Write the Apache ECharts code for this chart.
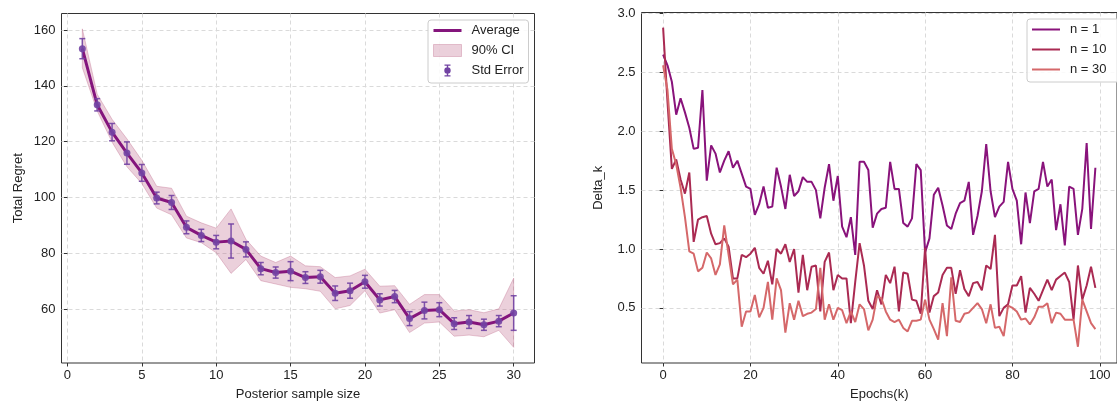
<!DOCTYPE html>
<html>
<head>
<meta charset="utf-8">
<script src="https://cdn.jsdelivr.net/npm/echarts@6/dist/echarts.min.js"></script>
<style>
html, body { margin: 0; padding: 0; background: #fff; }
#chart { width: 1117px; height: 406px; }
</style>
</head>
<body>
<div id="chart"></div>
<script>
// left panel: total regret vs posterior sample size
const sampleSize = [1, 2, 3, 4, 5, 6, 7, 8, 9, 10, 11, 12, 13, 14, 15, 16, 17, 18, 19, 20, 21, 22, 23, 24, 25, 26, 27, 28, 29, 30];
const avgRegret = [153.3, 133.2, 123.4, 115.9, 108.8, 99.8, 98.2, 89.3, 86.4, 84.0, 84.4, 81.4, 74.5, 73.1, 73.6,
    71.3, 71.6, 65.7, 66.6, 69.8, 63.3, 64.5, 56.6, 59.5, 59.8, 54.8, 55.4, 54.4, 55.7, 58.6];
const stdErr = [3.6, 2.2, 3.1, 4.0, 3.0, 2.1, 2.5, 2.3, 2.2, 2.4, 6.1, 2.7, 2.2, 2.0, 3.4,
    2.1, 2.3, 2.6, 2.7, 2.3, 2.2, 2.2, 2.5, 3.0, 2.5, 2.1, 2.3, 2.0, 2.0, 6.2];
const ciLow = [146.5, 131.0, 119.8, 111.0, 105.0, 96.2, 93.8, 85.5, 83.8, 80.2, 72.8, 77.8, 70.2, 69.0, 67.8,
    67.3, 66.4, 60.1, 61.3, 66.6, 58.6, 59.8, 51.6, 55.0, 55.4, 50.3, 50.7, 50.1, 52.4, 46.3];
const ciHigh = [160.4, 137.0, 128.0, 121.0, 113.3, 104.0, 103.3, 93.3, 90.9, 89.0, 95.9, 85.0, 79.0, 76.7, 79.0,
    75.5, 75.2, 71.3, 71.9, 74.3, 68.2, 68.4, 61.7, 65.2, 65.2, 59.3, 59.8, 58.7, 60.1, 71.1];
const sizeTicks = [0, 5, 10, 15, 20, 25, 30];
const regretTicks = [60, 80, 100, 120, 140, 160];

// right panel: Delta_k per epoch
const epochs = Array.from({ length: 100 }, (_, i) => i);
const deltaN1 = [2.65, 2.56, 2.42, 2.14, 2.28, 2.16, 2.03, 1.85, 1.86, 2.35,
    1.58, 1.88, 1.81, 1.65, 1.75, 1.83, 1.69, 1.75, 1.64, 1.53,
    1.51, 1.29, 1.38, 1.53, 1.35, 1.36, 1.69, 1.53, 1.34, 1.63,
    1.45, 1.49, 1.61, 1.57, 1.57, 1.50, 1.26, 1.52, 1.72, 1.41,
    1.62, 1.19, 1.10, 1.27, 0.95, 1.74, 1.74, 1.67, 1.18, 1.30,
    1.34, 1.35, 1.74, 1.51, 1.51, 1.22, 1.19, 1.26, 1.72, 1.67,
    0.97, 1.09, 1.46, 1.52, 1.37, 1.20, 1.17, 1.30, 1.39, 1.41,
    1.57, 1.12, 1.28, 1.49, 1.89, 1.49, 1.27, 1.36, 1.40, 1.74,
    1.51, 1.41, 1.04, 1.48, 1.22, 1.49, 1.51, 1.74, 1.53, 1.59,
    1.16, 1.38, 1.03, 1.53, 1.51, 1.12, 1.34, 1.90, 1.17, 1.69];
const deltaN10 = [2.88, 2.25, 1.68, 1.76, 1.59, 1.47, 1.65, 1.06, 1.25, 1.27,
    1.28, 1.13, 1.04, 1.05, 1.09, 1.02, 0.75, 0.75, 0.95, 0.93,
    0.96, 1.01, 0.84, 0.79, 0.90, 0.70, 1.00, 0.96, 1.04, 0.89,
    1.00, 0.63, 0.95, 0.65, 0.85, 0.86, 0.47, 0.89, 0.97, 0.65,
    0.78, 0.75, 0.75, 0.37, 0.72, 1.05, 0.86, 0.56, 0.49, 0.65,
    0.53, 0.78, 0.71, 0.85, 0.47, 0.80, 0.79, 0.57, 0.56, 0.45,
    1.01, 0.46, 0.60, 0.63, 0.78, 0.84, 0.84, 0.62, 0.82, 0.66,
    0.60, 0.71, 0.72, 0.65, 0.86, 0.83, 1.12, 0.43, 0.50, 0.53,
    0.69, 0.69, 0.77, 0.46, 0.67, 0.62, 0.56, 0.65, 0.74, 0.65,
    0.74, 0.77, 0.80, 0.72, 0.40, 0.86, 0.57, 0.69, 0.85, 0.67];
const deltaN30 = [2.56, 2.35, 1.85, 1.72, 1.52, 1.27, 0.98, 0.96, 0.81, 0.84,
    0.97, 0.92, 0.78, 0.87, 1.20, 0.95, 0.70, 0.74, 0.34, 0.47,
    0.47, 0.61, 0.42, 0.50, 0.72, 0.40, 0.75, 0.65, 0.29, 0.54,
    0.40, 0.56, 0.43, 0.45, 0.46, 0.49, 0.84, 0.40, 0.53, 0.40,
    0.50, 0.48, 0.37, 0.47, 0.38, 0.53, 0.49, 0.31, 0.40, 0.60,
    0.58, 0.47, 0.40, 0.38, 0.40, 0.33, 0.30, 0.39, 0.39, 0.40,
    0.57, 0.40, 0.32, 0.23, 0.54, 0.26, 0.76, 0.39, 0.38, 0.45,
    0.46, 0.50, 0.54, 0.49, 0.37, 0.53, 0.33, 0.34, 0.26, 0.52,
    0.50, 0.47, 0.40, 0.41, 0.36, 0.42, 0.51, 0.51, 0.54, 0.37,
    0.46, 0.45, 0.40, 0.40, 0.40, 0.17, 0.57, 0.47, 0.37, 0.32];
const epochTicks = [0, 20, 40, 60, 80, 100];
const deltaTicks = [0.5, 1.0, 1.5, 2.0, 2.5, 3.0];

const font = 'Liberation Sans, Arial, sans-serif';
const textColor = '#222';
const avgColor = '#84157c';
const barColor = '#7243a3';
const bandFill = 'rgba(190, 100, 135, 0.3)';
const bandEdge = 'rgba(190, 100, 135, 0.35)';
const lineColors = ['#89137b', '#aa2a52', '#d5686a'];

// legend glyphs, drawn in a 28x12 box (the tiny corner triangles pin the box size)
const boxPins = 'M0,0L0.01,0L0,0.01ZM28,12L27.99,12L28,11.99Z';
const thickLineIcon = 'path://' + boxPins + 'M0,4.5H28V7.5H0Z';
const thinLineIcon = 'path://' + boxPins + 'M0,5H28V7H0Z';
const errIcon = 'path://' + boxPins + 'M13.3,0H14.7V12H13.3ZM11,0H17V1.2H11ZM11,10.8H17V12H11Z' +
    'M10.8,6A3.2,3.2,0,1,1,17.2,6A3.2,3.2,0,1,1,10.8,6Z';

function axisX(grid, min, max, ticks, name) {
    return {
        type: 'value', gridIndex: grid, min: min, max: max,
        axisLine: { show: false },
        axisTick: { show: true, length: 3.5, customValues: ticks, lineStyle: { color: '#333' } },
        axisLabel: { customValues: ticks, margin: 6, fontSize: 13, color: textColor, fontFamily: font },
        splitLine: { show: true, lineStyle: { color: '#dadada', type: [4, 3], width: 1 } },
        name: name, nameLocation: 'middle', nameGap: 25,
        nameTextStyle: { fontSize: 13, color: textColor, fontFamily: font }
    };
}

function axisY(grid, min, max, ticks, name, gap, fmt) {
    return {
        type: 'value', gridIndex: grid, min: min, max: max,
        axisLine: { show: false },
        axisTick: { show: true, length: 3.5, customValues: ticks, lineStyle: { color: '#333' } },
        axisLabel: { customValues: ticks, margin: 6, fontSize: 13, color: textColor, fontFamily: font, formatter: fmt },
        splitLine: { show: true, lineStyle: { color: '#dadada', type: [4, 3], width: 1 } },
        name: name, nameLocation: 'middle', nameGap: gap, nameRotate: 90,
        nameTextStyle: { fontSize: 13, color: textColor, fontFamily: font }
    };
}

const legendBase = {
    orient: 'vertical',
    itemWidth: 28, itemHeight: 12, itemGap: 7,
    padding: [4, 5, 6, 5],
    borderColor: '#cccccc', borderWidth: 1, borderRadius: 3,
    backgroundColor: 'rgba(255,255,255,0.85)',
    textStyle: { fontSize: 13, color: textColor, fontFamily: font, padding: [0, 0, 0, 5] }
};

const chart = echarts.init(document.getElementById('chart'));
const option = {
    animation: false,
    backgroundColor: '#fff',
    textStyle: { fontFamily: font },
    grid: [
        { left: 61.5, top: 13.5, width: 473, height: 353, show: true, borderColor: '#333', borderWidth: 1 },
        { left: 641.5, top: 12.5, width: 478, height: 355, show: true, borderColor: '#333', borderWidth: 1 }
    ],
    xAxis: [
        axisX(0, -0.4, 31.4, sizeTicks, 'Posterior sample size'),
        axisX(1, -4.95, 103.95, epochTicks, 'Epochs(k)')
    ],
    yAxis: [
        axisY(0, 40.7, 165.9, regretTicks, 'Total Regret', 37, '{value}'),
        axisY(1, 0.032, 3.008, deltaTicks, 'Delta_k', 37, v => v.toFixed(1))
    ],
    legend: [
        Object.assign({}, legendBase, {
            left: 428, top: 20,
            data: [
                { name: 'Average', icon: thickLineIcon },
                { name: '90% CI', icon: 'rect', itemStyle: { color: bandFill, borderColor: bandEdge, borderWidth: 1 } },
                { name: 'Std Error', icon: errIcon, itemStyle: { color: barColor } }
            ]
        }),
        Object.assign({}, legendBase, {
            left: 1027, top: 19,
            padding: [4, 16, 6, 5],
            data: [
                { name: 'n = 1', icon: thinLineIcon },
                { name: 'n = 10', icon: thinLineIcon },
                { name: 'n = 30', icon: thinLineIcon }
            ]
        })
    ],
    series: [
        {
            name: '90% CI',
            type: 'custom',
            xAxisIndex: 0, yAxisIndex: 0,
            z: 1,
            data: sampleSize.map((x, i) => [x, ciLow[i], ciHigh[i]]),
            encode: { x: 0, y: [1, 2] },
            renderItem(params, api) {
                if (params.dataIndex !== 0) return null;
                const pts = [];
                sampleSize.forEach((x, i) => pts.push(api.coord([x, ciHigh[i]])));
                for (let i = sampleSize.length - 1; i >= 0; i--) {
                    pts.push(api.coord([sampleSize[i], ciLow[i]]));
                }
                return {
                    type: 'polygon',
                    shape: { points: pts },
                    style: { fill: bandFill, stroke: bandEdge, lineWidth: 1 }
                };
            }
        },
        {
            name: 'Average',
            type: 'line',
            xAxisIndex: 0, yAxisIndex: 0,
            z: 2,
            symbol: 'none',
            data: sampleSize.map((x, i) => [x, avgRegret[i]]),
            lineStyle: { color: avgColor, width: 3 },
            itemStyle: { color: avgColor }
        },
        {
            name: 'Std Error',
            type: 'custom',
            xAxisIndex: 0, yAxisIndex: 0,
            z: 3,
            data: sampleSize.map((x, i) => [x, avgRegret[i], stdErr[i]]),
            encode: { x: 0, y: 1 },
            renderItem(params, api) {
                const x = api.value(0), m = api.value(1), e = api.value(2);
                const top = api.coord([x, m + e]);
                const bot = api.coord([x, m - e]);
                const mid = api.coord([x, m]);
                const cap = 3;
                const st = { stroke: barColor, lineWidth: 1.5, opacity: 0.9 };
                return {
                    type: 'group',
                    children: [
                        { type: 'line', shape: { x1: top[0], y1: top[1], x2: bot[0], y2: bot[1] }, style: st },
                        { type: 'line', shape: { x1: top[0] - cap, y1: top[1], x2: top[0] + cap, y2: top[1] }, style: st },
                        { type: 'line', shape: { x1: bot[0] - cap, y1: bot[1], x2: bot[0] + cap, y2: bot[1] }, style: st },
                        { type: 'circle', shape: { cx: mid[0], cy: mid[1], r: 3.5 }, style: { fill: barColor, opacity: 0.9 } }
                    ]
                };
            }
        },
        {
            name: 'n = 1', type: 'line', xAxisIndex: 1, yAxisIndex: 1, symbol: 'none',
            data: epochs.map((k, i) => [k, deltaN1[i]]),
            lineStyle: { color: lineColors[0], width: 2 }, itemStyle: { color: lineColors[0] }
        },
        {
            name: 'n = 10', type: 'line', xAxisIndex: 1, yAxisIndex: 1, symbol: 'none',
            data: epochs.map((k, i) => [k, deltaN10[i]]),
            lineStyle: { color: lineColors[1], width: 2 }, itemStyle: { color: lineColors[1] }
        },
        {
            name: 'n = 30', type: 'line', xAxisIndex: 1, yAxisIndex: 1, symbol: 'none',
            data: epochs.map((k, i) => [k, deltaN30[i]]),
            lineStyle: { color: lineColors[2], width: 2 }, itemStyle: { color: lineColors[2] }
        }
    ]
};
chart.setOption(option);
</script>
</body>
</html>
